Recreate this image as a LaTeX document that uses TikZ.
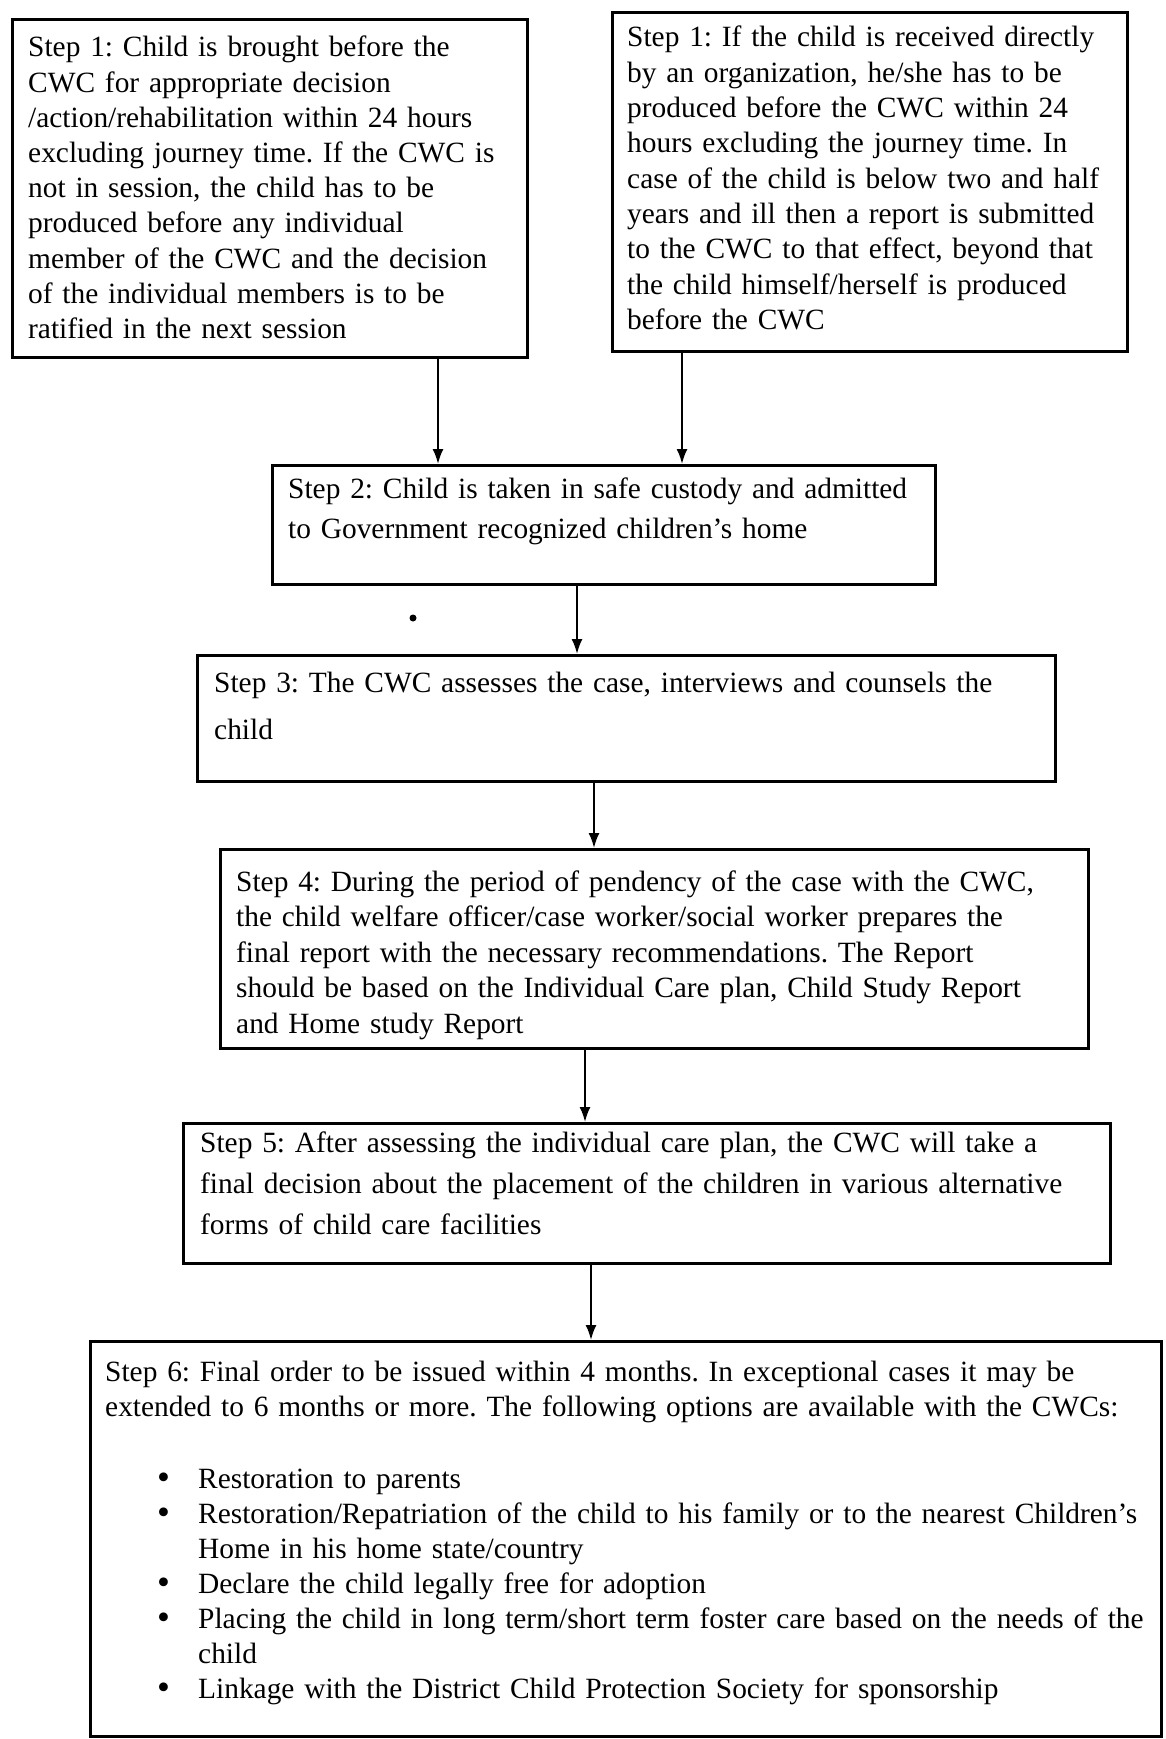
\documentclass[tikz,border=0pt]{standalone}
\usepackage{fontspec}
\usepackage{graphicx}
\setmainfont{Liberation Serif}
\usetikzlibrary{arrows.meta}
\newcommand{\blt}{\makebox[41pt][l]{\raisebox{-1pt}{\scalebox{1.25}{•}}}}
\begin{document}
\frenchspacing
\begin{tikzpicture}[x=1pt,y=-1pt,
  box/.style={draw=black, line width=2.6pt, rectangle, anchor=north west, inner sep=0pt},
  txt/.style={anchor=base west, inner sep=0pt, align=left, text width=1100pt},
  arr/.style={line width=2pt, -{Latex[length=15pt,width=11pt]}},
]
\fill[white] (0,0) rectangle (1166,1739);
\useasboundingbox (0,0) rectangle (1166,1739);

% boxes
\node[box, minimum width=515pt, minimum height=338pt] (b1l) at (11,18) {};
\node[box, minimum width=515pt, minimum height=339pt] (b1r) at (611,11) {};
\node[box, minimum width=663pt, minimum height=119pt] (b2) at (271,464) {};
\node[box, minimum width=858pt, minimum height=126pt] (b3) at (196,654) {};
\node[box, minimum width=868pt, minimum height=199pt] (b4) at (219,848) {};
\node[box, minimum width=927pt, minimum height=140pt] (b5) at (182,1122) {};
\node[box, minimum width=1071pt, minimum height=395pt] (b6) at (89,1340) {};

% texts
\node[txt, font=\fontsize{29.4}{35.2}\selectfont] (t1l) at (28,57) {Step 1: Child is brought before the\\
CWC for appropriate decision\\
/action/rehabilitation within 24 hours\\
excluding journey time. If the CWC is\\
not in session, the child has to be\\
produced before any individual\\
member of the CWC and the decision\\
of the individual members is to be\\
ratified in the next session};

\node[txt, font=\fontsize{29.4}{35.3}\selectfont] (t1r) at (627,47) {Step 1: If the child is received directly\\
by an organization, he/she has to be\\
produced before the CWC within 24\\
hours excluding the journey time. In\\
case of the child is below two and half\\
years and ill then a report is submitted\\
to the CWC to that effect, beyond that\\
the child himself/herself is produced\\
before the CWC};

\node[txt, font=\fontsize{29.4}{40}\selectfont] (t2) at (288,498) {Step 2: Child is taken in safe custody and admitted\\
to Government recognized children’s home};

\node[txt, font=\fontsize{29.4}{47}\selectfont] (t3) at (214,692) {Step 3: The CWC assesses the case, interviews and counsels the\\
child};

\node[txt, font=\fontsize{29.4}{35.5}\selectfont] (t4) at (236,891) {Step 4: During the period of pendency of the case with the CWC,\\
the child welfare officer/case worker/social worker prepares the\\
final report with the necessary recommendations. The Report\\
should be based on the Individual Care plan, Child Study Report\\
and Home study Report};

\node[txt, font=\fontsize{29.4}{41}\selectfont] (t5) at (200,1152) {Step 5: After assessing the individual care plan, the CWC will take a\\
final decision about the placement of the children in various alternative\\
forms of child care facilities};

\node[txt, font=\fontsize{29.4}{35.5}\selectfont] (t6) at (105,1381) {Step 6: Final order to be issued within 4 months. In exceptional cases it may be\\
extended to 6 months or more. The following options are available with the CWCs:};

\node[txt, font=\fontsize{29.4}{35}\selectfont] (t6l) at (157,1488) {\blt Restoration to parents\\
\blt Restoration/Repatriation of the child to his family or to the nearest Children’s\\
\hspace*{41pt}Home in his home state/country\\
\blt Declare the child legally free for adoption\\
\blt Placing the child in long term/short term foster care based on the needs of the\\
\hspace*{41pt}child\\
\blt Linkage with the District Child Protection Society for sponsorship};

% connectors
\coordinate (xa) at (438,0);
\coordinate (xb) at (682,0);
\coordinate (xc) at (577,0);
\coordinate (xd) at (594,0);
\coordinate (xe) at (585,0);
\coordinate (xf) at (591,0);
\draw[arr] (xa |- b1l.south) -- (xa |- b2.north);
\draw[arr] (xb |- b1r.south) -- (xb |- b2.north);
\draw[arr] (xc |- b2.south) -- (xc |- b3.north);
\draw[arr] (xd |- b3.south) -- (xd |- b4.north);
\draw[arr] (xe |- b4.south) -- (xe |- b5.north);
\draw[arr] (xf |- b5.south) -- (xf |- b6.north);

\fill (413,618) circle (3.5pt);
\end{tikzpicture}
\end{document}
